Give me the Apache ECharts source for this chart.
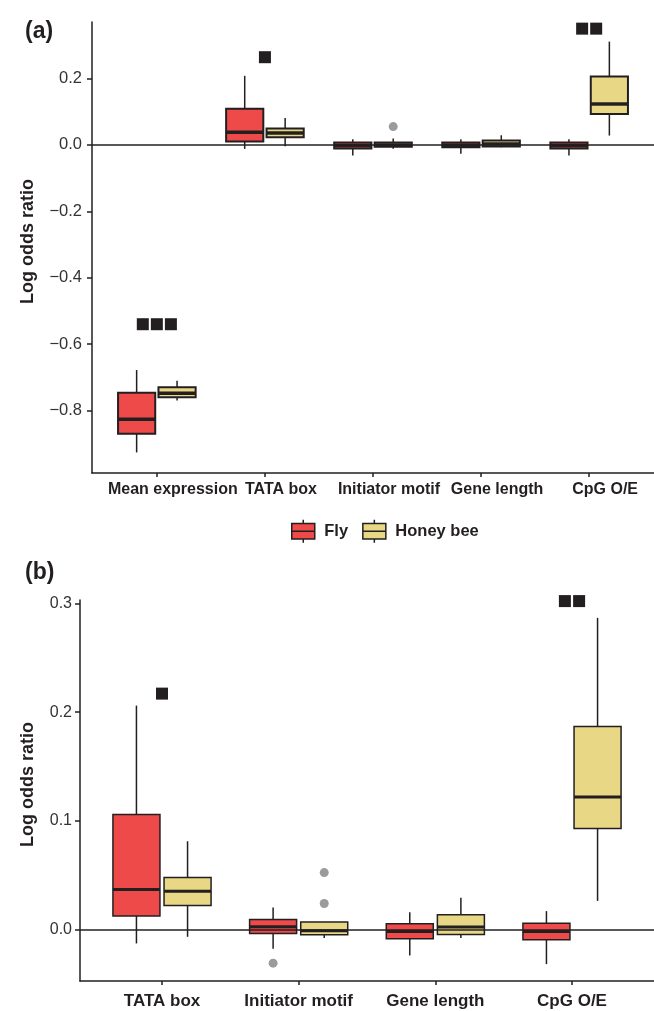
<!DOCTYPE html>
<html>
<head>
<meta charset="utf-8">
<script src="https://cdn.jsdelivr.net/npm/echarts@6/dist/echarts.min.js"></script>
<style>
  html, body { margin: 0; padding: 0; background: #fff; }
  #chart { width: 654px; height: 1011px; }
</style>
</head>
<body>
<div id="chart"></div>
<script>
// panel (a): all five predictors
const catsA = ['Mean expression', 'TATA box', 'Initiator motif', 'Gene length', 'CpG O/E'];
// [min, q1, median, q3, max]
const flyA = [
  [-0.926, -0.870, -0.826, -0.746, -0.678],
  [-0.012, 0.010, 0.038, 0.109, 0.208],
  [-0.032, -0.011, -0.002, 0.007, 0.017],
  [-0.027, -0.007, -0.001, 0.007, 0.017],
  [-0.032, -0.011, -0.002, 0.007, 0.017],
];
const beeA = [
  [-0.770, -0.760, -0.748, -0.730, -0.710],
  [-0.004, 0.023, 0.036, 0.049, 0.081],
  [-0.012, -0.006, 0.000, 0.007, 0.019],
  [-0.007, -0.005, 0.003, 0.013, 0.029],
  [0.028, 0.093, 0.123, 0.206, 0.311],
];
const flyOutA = [[], [], [], [], []];
const beeOutA = [[], [], [0.055], [], []];
const sigCountA = [3, 1, 0, 0, 2];
const sigYA = [-0.54, 0.264, null, null, 0.35];
const yTicksA = [-0.8, -0.6, -0.4, -0.2, 0, 0.2];

// panel (b): without mean expression
const catsB = ['TATA box', 'Initiator motif', 'Gene length', 'CpG O/E'];
const flyB = [
  [-0.0125, 0.0128, 0.037, 0.106, 0.206],
  [-0.0174, -0.0033, 0.0028, 0.0095, 0.0205],
  [-0.0235, -0.0083, -0.0015, 0.0055, 0.0162],
  [-0.0315, -0.0092, -0.0015, 0.0061, 0.0172],
];
const beeB = [
  [-0.0064, 0.0224, 0.0355, 0.048, 0.0814],
  [-0.0076, -0.0046, -0.0009, 0.0071, 0.0071],
  [-0.0076, -0.0042, 0.0025, 0.0138, 0.0294],
  [0.0266, 0.093, 0.122, 0.1869, 0.2866],
];
const flyOutB = [[], [-0.0306], [], []];
const beeOutB = [[], [0.0526, 0.0242], [], []];
const sigCountB = [1, 0, 0, 2];
const sigYB = [0.217, null, null, 0.302];
const yTicksB = [0, 0.1, 0.2, 0.3];

const FLY = '#EE4A4A';
const BEE = '#E8D886';
const INK = '#231F20';
const FONT = 'Liberation Sans, Arial, sans-serif';
const DODGE = 0.187;
const HALF = 0.172;

function boxRenderer(edge, mid) {
  return function (params, api) {
    const x = api.value(0);
    const yOf = v => api.coord([x, v])[1];
    const cx = api.coord([x, 0])[0];
    const half = api.size([HALF, 0])[0];
    const yMin = yOf(api.value(1)), yQ1 = yOf(api.value(2)), yMed = yOf(api.value(3));
    const yQ3 = yOf(api.value(4)), yMax = yOf(api.value(5));
    return {
      type: 'group',
      children: [
        { type: 'line', shape: { x1: cx, y1: yMax, x2: cx, y2: yQ3 }, style: { stroke: INK, lineWidth: 1.5 } },
        { type: 'line', shape: { x1: cx, y1: yQ1, x2: cx, y2: yMin }, style: { stroke: INK, lineWidth: 1.5 } },
        { type: 'rect', shape: { x: cx - half, y: yQ3, width: half * 2, height: yQ1 - yQ3 },
          style: { fill: api.visual('color'), stroke: INK, lineWidth: edge } },
        { type: 'line', shape: { x1: cx - half, y1: yMed, x2: cx + half, y2: yMed }, style: { stroke: INK, lineWidth: mid } },
      ],
    };
  };
}

function boxData(stats, shift) {
  return stats.map((s, i) => [i + 1 + shift].concat(s));
}

function outData(outs, shift) {
  const res = [];
  outs.forEach((list, i) => list.forEach(v => res.push([i + 1 + shift, v])));
  return res;
}

function sigData(counts, ys, step) {
  const res = [];
  counts.forEach((n, i) => {
    for (let k = 0; k < n; k++) res.push([i + 1 + (k - (n - 1) / 2) * step, ys[i]]);
  });
  return res;
}

const minus = v => (v < 0 ? '\u2212' : '') + Math.abs(v).toFixed(1);

function panelSeries(idx, fly, bee, flyOut, beeOut, sigC, sigY, step, edge, mid) {
  const ax = { xAxisIndex: idx, yAxisIndex: idx };
  const render = boxRenderer(edge, mid);
  return [
    Object.assign({
      type: 'line', data: [], silent: true, z: 1,
      markLine: {
        silent: true, symbol: 'none', label: { show: false }, animation: false,
        lineStyle: { color: INK, width: 1.5, type: 'solid' },
        data: [{ yAxis: 0 }],
      },
    }, ax),
    Object.assign({ name: 'Fly', type: 'custom', z: 2, itemStyle: { color: FLY },
      renderItem: render, encode: { x: 0, y: [1, 2, 3, 4, 5] }, data: boxData(fly, -DODGE) }, ax),
    Object.assign({ name: 'Honey bee', type: 'custom', z: 2, itemStyle: { color: BEE },
      renderItem: render, encode: { x: 0, y: [1, 2, 3, 4, 5] }, data: boxData(bee, DODGE) }, ax),
    Object.assign({ type: 'scatter', z: 3, symbol: 'circle', symbolSize: 9, silent: true,
      itemStyle: { color: '#9B9B9B', opacity: 1 }, data: outData(flyOut, -DODGE).concat(outData(beeOut, DODGE)) }, ax),
    Object.assign({ type: 'scatter', z: 3, symbol: 'rect', symbolSize: 12, silent: true,
      itemStyle: { color: INK, opacity: 1 }, data: sigData(sigC, sigY, step) }, ax),
  ];
}

function xAxisFor(idx, cats, fontSize, margin, pad) {
  const vals = cats.map((c, i) => i + 1);
  return {
    gridIndex: idx, type: 'value', min: 0.4, max: cats.length + 0.6,
    splitLine: { show: false },
    axisLine: { onZero: false, lineStyle: { color: INK, width: 1.5 } },
    axisTick: { customValues: vals, length: 4, lineStyle: { color: INK, width: 1.5 } },
    axisLabel: {
      customValues: vals, margin: margin, color: INK, fontWeight: 'bold', fontSize: fontSize,
      fontFamily: FONT, padding: [0, 0, 0, pad],
      formatter: v => cats[Math.round(v) - 1],
    },
  };
}

function yAxisFor(idx, min, max, ticks, fontSize, margin, nameGap) {
  return {
    gridIndex: idx, type: 'value', min: min, max: max,
    name: 'Log odds ratio', nameLocation: 'middle', nameRotate: 90, nameGap: nameGap,
    nameTextStyle: { color: INK, fontWeight: 'bold', fontSize: 18, fontFamily: FONT, padding: [0, 0, 0, 12] },
    splitLine: { show: false },
    axisLine: { onZero: false, lineStyle: { color: INK, width: 1.5 } },
    axisTick: { customValues: ticks, length: 5, lineStyle: { color: INK, width: 1.5 } },
    axisLabel: { customValues: ticks, margin: margin, color: '#333', fontSize: fontSize,
      fontFamily: FONT, formatter: minus },
  };
}

const panelTitle = (letter, top) => ({
  text: '{p|(}{b|' + letter + '}{p|)}', left: 20, top: top,
  textStyle: {
    rich: {
      p: { fontSize: 23, color: INK, fontFamily: FONT },
      b: { fontSize: 23, color: INK, fontWeight: 'bold', fontFamily: FONT },
    },
  },
});

const legendIcon = 'path://M12 0L12 4M0 4L24 4L24 20L0 20ZM0 12L24 12M12 20L12 24';

const chart = echarts.init(document.getElementById('chart'), null, { renderer: 'canvas' });
chart.setOption({
  animation: false,
  backgroundColor: '#fff',
  title: [panelTitle('a', 15), panelTitle('b', 556)],
  legend: {
    data: ['Fly', 'Honey bee'], left: 286, top: 514,
    icon: legendIcon, itemWidth: 24, itemHeight: 23, itemGap: 14,
    itemStyle: { borderColor: INK, borderWidth: 1.5 },
    textStyle: { color: INK, fontWeight: 'bold', fontSize: 16.5, fontFamily: FONT, padding: [0, 0, 0, 4] },
    selectedMode: false,
  },
  grid: [
    { left: 92, right: 0, top: 22, bottom: 538 },
    { left: 80, right: 0, top: 600, bottom: 30 },
  ],
  xAxis: [
    xAxisFor(0, catsA, 16, 9, 32),
    xAxisFor(1, catsB, 17, 12, 0),
  ],
  yAxis: [
    yAxisFor(0, -0.988, 0.37, yTicksA, 16.5, 10, 55),
    yAxisFor(1, -0.047, 0.303, yTicksB, 16, 8, 43),
  ],
  series: []
    .concat(panelSeries(0, flyA, beeA, flyOutA, beeOutA, sigCountA, sigYA, 0.13, 2, 3.5))
    .concat(panelSeries(1, flyB, beeB, flyOutB, beeOutB, sigCountB, sigYB, 0.104, 1.5, 3)),
});
</script>
</body>
</html>
